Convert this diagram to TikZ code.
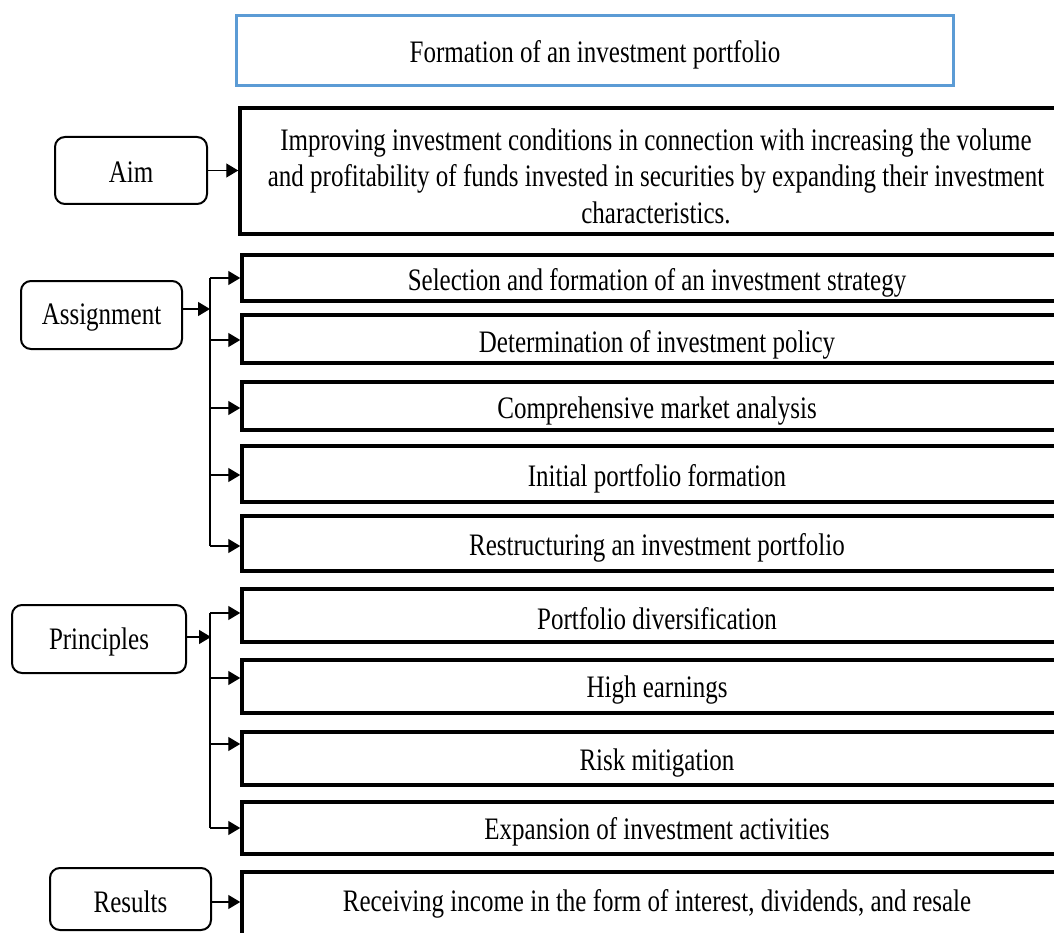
\documentclass[tikz,border=0pt]{standalone}
\usepackage{fontspec}
\setmainfont{Liberation Serif}
\usetikzlibrary{arrows.meta}
\definecolor{titleblue}{HTML}{5B9BD5}
\newcommand\st[2][-4pt]{\raisebox{#1}[\height][\depth]{\scalebox{1}[1.25]{#2}}}
\tikzset{
  every node/.style={font=\fontsize{25}{29.2}\selectfont, inner sep=0pt},
  titlebox/.style={draw=titleblue, line width=3pt, minimum width=717pt, minimum height=70pt},
  textbox/.style={draw, line width=3.5pt, minimum width=830pt},
  labelbox/.style={draw, line width=2pt, rounded corners=10pt},
  conn/.style={line width=1.3pt, -{Triangle[length=12pt,width=14pt]}},
  busline/.style={line width=1.3pt}
}
\begin{document}
\begin{tikzpicture}[x=1pt,y=-1pt]
\useasboundingbox (0,0) rectangle (1054,933);
\clip (0,0) rectangle (1054,933);
% title
\node[titlebox] (title) at (595,50.5) {\st{Formation of an investment portfolio}};
% aim
\node[labelbox, minimum width=152pt, minimum height=67pt] (aim) at (131,170.5) {\st[-2pt]{Aim}};
\node[textbox, minimum width=832pt, minimum height=126pt] (aimtext) at (656,171)
  {\st[-8.5pt]{\begin{tabular}{@{}c@{}}Improving investment conditions in connection with increasing the volume\\ and profitability of funds invested in securities by expanding their investment\\ characteristics.\end{tabular}}};
\draw[conn] (aim.east) -- (aim.east -| aimtext.west);
% assignment
\node[labelbox, minimum width=161pt, minimum height=68pt] (asg) at (101.5,315) {\st[-3pt]{Assignment}};
\node[textbox, minimum height=46pt] (a1) at (657,278) {\st[-5pt]{Selection and formation of an investment strategy}};
\node[textbox, minimum height=48pt] (a2) at (657,339) {\st[-6pt]{Determination of investment policy}};
\node[textbox, minimum height=48pt] (a3) at (657,406) {\st[-5pt]{Comprehensive market analysis}};
\node[textbox, minimum height=56pt] (a4) at (657,474) {\st[-5pt]{Initial portfolio formation}};
\node[textbox, minimum height=55pt] (a5) at (657,543.5) {\st[-4pt]{Restructuring an investment portfolio}};
\coordinate (asgbus) at (210,309);
\coordinate (ab1) at (210,278);
\coordinate (ab2) at (210,340);
\coordinate (ab3) at (210,408);
\coordinate (ab4) at (210,475);
\coordinate (ab5) at (210,546);
\draw[conn] (asg.east |- asgbus) -- (asgbus);
\draw[busline] (ab1) -- (ab5);
\draw[conn] (ab1) -- (ab1 -| a1.west);
\draw[conn] (ab2) -- (ab2 -| a2.west);
\draw[conn] (ab3) -- (ab3 -| a3.west);
\draw[conn] (ab4) -- (ab4 -| a4.west);
\draw[conn] (ab5) -- (ab5 -| a5.west);
% principles
\node[labelbox, minimum width=174pt, minimum height=68pt] (pri) at (99,639) {\st[-3pt]{Principles}};
\node[textbox, minimum height=53pt] (p1) at (657,615.5) {\st[-3pt]{Portfolio diversification}};
\node[textbox, minimum height=53pt] (p2) at (657,686.5) {\st[-4pt]{High earnings}};
\node[textbox, minimum height=53pt] (p3) at (657,758.5) {\st[-5pt]{Risk mitigation}};
\node[textbox, minimum height=52pt] (p4) at (657,828) {\st[-4pt]{Expansion of investment activities}};
\coordinate (pribus) at (211,637);
\coordinate (pb1) at (210,613);
\coordinate (pb2) at (210,678);
\coordinate (pb3) at (210,744);
\coordinate (pb4) at (210,828);
\draw[conn] (pri.east |- pribus) -- (pribus);
\draw[busline] (pb1) -- (pb4);
\draw[conn] (pb1) -- (pb1 -| p1.west);
\draw[conn] (pb2) -- (pb2 -| p2.west);
\draw[conn] (pb3) -- (pb3 -| p3.west);
\draw[conn] (pb4) -- (pb4 -| p4.west);
% results
\node[labelbox, minimum width=161pt, minimum height=62pt] (res) at (130.5,899) {\st[-3pt]{Results}};
\node[textbox, minimum height=66pt] (r1) at (657,905) {\st[1pt]{Receiving income in the form of interest, dividends, and resale}};
\coordinate (resarr) at (0,902);
\draw[conn] (res.east |- resarr) -- (resarr -| r1.west);
\end{tikzpicture}
\end{document}
